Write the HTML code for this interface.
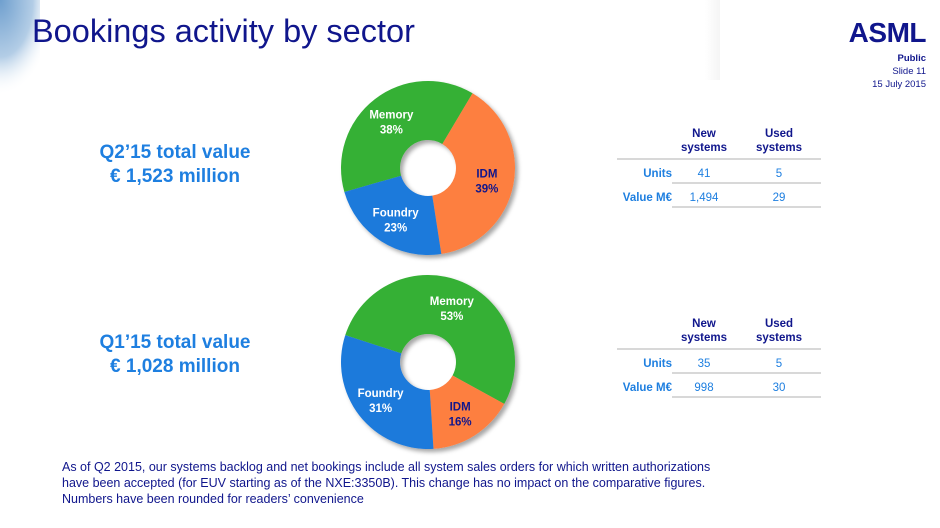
<!DOCTYPE html>
<html><head><meta charset="utf-8">
<style>
html,body{margin:0;padding:0;background:#fff;}
body{width:940px;height:528px;overflow:hidden;position:relative;font-family:"Liberation Sans",Arial,sans-serif;}
svg{position:absolute;left:0;top:0;}
</style></head>
<body>
<svg width="940" height="528" viewBox="0 0 940 528">
<defs>
<radialGradient id="corner" cx="0" cy="0" r="1" gradientUnits="userSpaceOnUse" gradientTransform="translate(0,0) scale(55,95)">
<stop offset="0" stop-color="#6f9fce"/><stop offset="0.6" stop-color="#b3cde6"/><stop offset="1" stop-color="#ffffff" stop-opacity="0"/>
</radialGradient>
<linearGradient id="topshade" x1="0" y1="0" x2="1" y2="0">
<stop offset="0" stop-color="#ffffff"/><stop offset="1" stop-color="#eeeeee"/>
</linearGradient>
<filter id="sh" x="-20%" y="-20%" width="140%" height="140%"><feDropShadow dx="3" dy="3" stdDeviation="2" flood-color="#000" flood-opacity="0.35"/></filter>
</defs>
<rect x="0" y="0" width="40" height="100" fill="url(#corner)"/>
<rect x="705" y="0" width="15" height="80" fill="url(#topshade)" opacity="0.6"/>
<text x="32" y="42" font-size="32.5" fill="#10168c">Bookings activity by sector</text>
<text x="926" y="42" text-anchor="end" font-size="28" font-weight="bold" fill="#10168c" letter-spacing="-0.5">ASML</text>
<text x="926" y="61" text-anchor="end" font-size="9.5" font-weight="bold" fill="#10168c">Public</text>
<text x="926" y="74" text-anchor="end" font-size="9.5" fill="#10168c">Slide 11</text>
<text x="926" y="87" text-anchor="end" font-size="9.5" fill="#10168c">15 July 2015</text>

<text x="175" y="158" text-anchor="middle" font-size="19" font-weight="bold" fill="#1e7fe0">Q2’15 total value</text>
<text x="175" y="182" text-anchor="middle" font-size="19" font-weight="bold" fill="#1e7fe0">€ 1,523 million</text>
<text x="175" y="348" text-anchor="middle" font-size="19" font-weight="bold" fill="#1e7fe0">Q1’15 total value</text>
<text x="175" y="372" text-anchor="middle" font-size="19" font-weight="bold" fill="#1e7fe0">€ 1,028 million</text>

<g id="donuts"></g>
<g id="tables"></g>

<text font-size="12.5" fill="#10168c">
<tspan x="62" y="471">As of Q2 2015, our systems backlog and net bookings include all system sales orders for which written authorizations</tspan>
<tspan x="62" y="487">have been accepted (for EUV starting as of the NXE:3350B). This change has no impact on the comparative figures.</tspan>
<tspan x="62" y="503">Numbers have been rounded for readers’ convenience</tspan>
</text>
</svg>
<script>
const sectors = ["Memory","IDM","Foundry"];
const q2Shares = [38,39,23];
const q1Shares = [53,16,31];
const sectorColors = ["#35b034","#fd7f3f","#1e7adb"];
const labelColors = ["#ffffff","#10168c","#ffffff"];
const tableCols = ["New systems","Used systems"];
const q2Units = [41,5];
const q2Value = ["1,494","29"];
const q1Units = [35,5];
const q1Value = ["998","30"];

const NS="http://www.w3.org/2000/svg";
function mk(tag,attrs,parent){const e=document.createElementNS(NS,tag);for(const k in attrs)e.setAttribute(k,attrs[k]);parent.appendChild(e);return e;}
function pt(cx,cy,r,deg){const a=(deg-90)*Math.PI/180;return [cx+r*Math.cos(a),cy+r*Math.sin(a)];}

function donut(cx,cy,shares,startMemory,order,name){
  const g=mk("g",{filter:"url(#sh)"},document.getElementById("donuts"));
  
  
  const R=87,r=28;
  const total=shares.reduce((a,b)=>a+b,0);
  let ang=startMemory;
  const labels=[];
  order.forEach(i=>{
    const sweep=shares[i]/total*360;
    const a0=ang,a1=ang+sweep;
    const p0=pt(cx,cy,R,a0),p1=pt(cx,cy,R,a1),q1=pt(cx,cy,r,a1),q0=pt(cx,cy,r,a0);
    const large=sweep>180?1:0;
    const p=mk("path",{d:`M${p0[0]},${p0[1]} A${R},${R} 0 ${large} 1 ${p1[0]},${p1[1]} L${q1[0]},${q1[1]} A${r},${r} 0 ${large} 0 ${q0[0]},${q0[1]} Z`,fill:sectorColors[i]},g);
    
    
    labels.push([i,(a0+a1)/2]);
    ang=a1;
  });
  const lg=mk("g",{},document.getElementById("donuts"));
  labels.forEach(([i,mid])=>{
    const c=pt(cx,cy,60,mid);
    const t=mk("text",{x:c[0],y:c[1]-2,"text-anchor":"middle","font-size":"11.5","font-weight":"bold",fill:labelColors[i]},lg);
    t.textContent=sectors[i];
    
    
    const t2=mk("text",{x:c[0],y:c[1]+13,"text-anchor":"middle","font-size":"11.5","font-weight":"bold",fill:labelColors[i]},lg);
    t2.textContent=Math.round(shares[i])+"%";
    
    
  });
}
donut(428,168,q2Shares,-106,[0,1,2],"q2-donut");
donut(428,362,q1Shares,-72,[0,1,2],"q1-donut");

function table(y0,units,values,name){
  const g=mk("g",{},document.getElementById("tables"));
  
  
  const colX=[704,779];
  tableCols.forEach((c,j)=>{
    const w=c.split(" ");
    const a=mk("text",{x:colX[j],y:y0,"text-anchor":"middle","font-size":"11.5","font-weight":"bold",fill:"#10168c"},g);a.textContent=w[0];
    
    
    const b=mk("text",{x:colX[j],y:y0+14,"text-anchor":"middle","font-size":"11.5","font-weight":"bold",fill:"#10168c"},g);b.textContent=w[1];
  });
  mk("line",{x1:617,x2:821,y1:y0+22,y2:y0+22,stroke:"#cccccc","stroke-width":1.5},g);
  mk("line",{x1:672,x2:821,y1:y0+46,y2:y0+46,stroke:"#cccccc","stroke-width":1.5},g);
  mk("line",{x1:672,x2:821,y1:y0+70,y2:y0+70,stroke:"#cccccc","stroke-width":1.5},g);
  const rows=[["Units",units],["Value M€",values]];
  rows.forEach((r,k)=>{
    const y=y0+40+k*24;
    const l=mk("text",{x:672,y:y,"text-anchor":"end","font-size":"11.5","font-weight":"bold",fill:"#1e7fe0"},g);l.textContent=r[0];
    
    
    r[1].forEach((v,j)=>{
      const t=mk("text",{x:colX[j],y:y,"text-anchor":"middle","font-size":"11.5",fill:"#1e7fe0"},g);t.textContent=v;
      
      
    });
  });
}
table(137,q2Units,q2Value,"q2-table");
table(327,q1Units,q1Value,"q1-table");
</script>
</body></html>
